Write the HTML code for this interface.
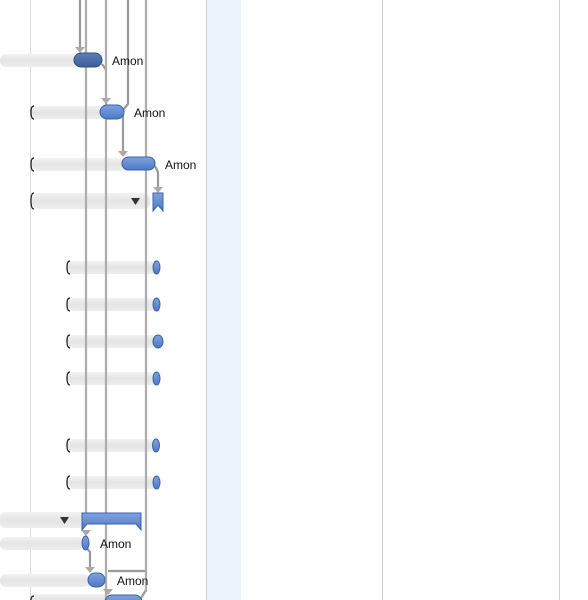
<!DOCTYPE html>
<html><head><meta charset="utf-8"><style>
html,body{margin:0;padding:0;background:#fff;width:588px;height:600px;overflow:hidden}
svg{display:block}
text{font-family:"Liberation Sans",sans-serif;font-size:12px;fill:#111}
</style></head><body>
<svg width="588" height="600" viewBox="0 0 588 600" xmlns="http://www.w3.org/2000/svg">
<defs>
<linearGradient id="gb" x1="0" y1="0" x2="0" y2="1"><stop offset="0" stop-color="#f2f2f2"/><stop offset="0.5" stop-color="#e4e4e4"/><stop offset="1" stop-color="#eeeeee"/></linearGradient>
<linearGradient id="bl" x1="0" y1="0" x2="0" y2="1"><stop offset="0" stop-color="#7fa3de"/><stop offset="1" stop-color="#4d78c4"/></linearGradient>
<linearGradient id="dk" x1="0" y1="0" x2="0" y2="1"><stop offset="0" stop-color="#5d7fb8"/><stop offset="1" stop-color="#3b5e98"/></linearGradient>
</defs>
<rect x="207" y="0" width="34" height="600" fill="#ecf3fd"/>
<line x1="30.5" y1="0" x2="30.5" y2="600" stroke="#dcdcdc"/>
<line x1="206.5" y1="0" x2="206.5" y2="600" stroke="#cfcfcf"/>
<line x1="382.5" y1="0" x2="382.5" y2="600" stroke="#cfcfcf"/>
<line x1="559.5" y1="0" x2="559.5" y2="600" stroke="#cfcfcf"/>

<g fill="url(#gb)">
<rect x="0" y="54" width="80" height="13" rx="6"/>
<rect x="32" y="106" width="72" height="13" rx="6"/>
<rect x="32" y="158" width="95" height="13" rx="6"/>
<rect x="32" y="193" width="118" height="16" rx="6"/>
<rect x="68" y="261" width="88" height="13" rx="6"/>
<rect x="68" y="298" width="88" height="13" rx="6"/>
<rect x="68" y="335" width="88" height="13" rx="6"/>
<rect x="68" y="372" width="88" height="13" rx="6"/>
<rect x="68" y="439" width="88" height="13" rx="6"/>
<rect x="68" y="476" width="88" height="13" rx="6"/>
<rect x="0" y="512" width="85" height="16" rx="5"/>
<rect x="0" y="537" width="84" height="13" rx="6"/>
<rect x="0" y="574" width="90" height="13" rx="6"/>
<rect x="32" y="594" width="80" height="10" rx="5"/>
</g>
<g fill="none" stroke="#222" stroke-width="1.3">
<path d="M34 106 Q31 106 31 112 Q31 119 34 119"/>
<path d="M34 158 Q31 158 31 164 Q31 171 34 171"/>
<path d="M34 193 Q31 193 31 201 Q31 209 34 209"/>
<path d="M70 261 Q67 261 67 267 Q67 274 70 274"/>
<path d="M70 298 Q67 298 67 304 Q67 311 70 311"/>
<path d="M70 335 Q67 335 67 341 Q67 348 70 348"/>
<path d="M70 372 Q67 372 67 378 Q67 385 70 385"/>
<path d="M70 439 Q67 439 67 445 Q67 452 70 452"/>
<path d="M70 476 Q67 476 67 482 Q67 489 70 489"/>
<path d="M34 596 Q31 596 31 600"/>
</g>
<path d="M131 198 L140 198 L135.5 205 Z" fill="#333"/>
<path d="M60 517 L69 517 L64.5 524 Z" fill="#333"/>

<g fill="none" stroke="#999" stroke-width="2.2">
<line x1="86" y1="0" x2="86" y2="522"/>
<line x1="106" y1="0" x2="106" y2="600"/>
<line x1="146" y1="0" x2="146" y2="592"/>
<path d="M80 0 V48"/>
<path d="M128 0 V104 L123 110 V152"/>
<path d="M102 64 L106 70"/>
<path d="M155 166 L158 172 V188"/>
<path d="M85 546 L90 552 V568"/>
<path d="M108 571 H146"/>
<path d="M146 590 L141 598"/>
<path d="M106 586 L106 592"/>
</g>
<g fill="none" stroke="#dcdcdc" stroke-width="0.6">
<line x1="86" y1="0" x2="86" y2="522"/>
<line x1="106" y1="0" x2="106" y2="600"/>
<line x1="146" y1="0" x2="146" y2="592"/>
</g>
<g fill="#aaa">
<path d="M75 47 L85 47 L80 53 Z"/>
<path d="M101 98 L111 98 L106 104 Z"/>
<path d="M118 151 L128 151 L123 157 Z"/>
<path d="M153 187 L163 187 L158 193 Z"/>
<path d="M81 530 L91 530 L86 536 Z"/>
<path d="M85 567 L95 567 L90 573 Z"/>
<path d="M103 589 L113 589 L108 595 Z"/>
</g>

<rect x="74" y="53" width="28" height="14" rx="7" fill="url(#dk)" stroke="#2f4f85"/>
<rect x="100" y="105" width="24" height="14" rx="7" fill="url(#bl)" stroke="#3a63a8"/>
<rect x="122" y="157" width="33" height="13" rx="6.5" fill="url(#bl)" stroke="#3a63a8"/>
<path d="M153 193 H163 V211 L158 205 L153 211 Z" fill="url(#bl)" stroke="#3a63a8"/>
<ellipse cx="156.5" cy="267.5" rx="3.5" ry="6.5" fill="url(#bl)" stroke="#3a63a8"/>
<ellipse cx="156.5" cy="304.5" rx="3.5" ry="6.5" fill="url(#bl)" stroke="#3a63a8"/>
<ellipse cx="158" cy="341.5" rx="5" ry="6.5" fill="url(#bl)" stroke="#3a63a8"/>
<ellipse cx="156.5" cy="378.5" rx="3.5" ry="6.5" fill="url(#bl)" stroke="#3a63a8"/>
<ellipse cx="156" cy="445.5" rx="3.5" ry="6.5" fill="url(#bl)" stroke="#3a63a8"/>
<ellipse cx="156.5" cy="482.5" rx="3.5" ry="6.5" fill="url(#bl)" stroke="#3a63a8"/>
<path d="M82 513 H141 V530 L136 524 H87 L82 530 Z" fill="url(#bl)" stroke="#3a63a8"/>
<ellipse cx="85.5" cy="543" rx="3.5" ry="7" fill="url(#bl)" stroke="#3a63a8"/>
<rect x="88" y="573" width="17" height="14" rx="7" fill="url(#bl)" stroke="#3a63a8"/>
<rect x="105" y="595" width="37" height="14" rx="7" fill="url(#bl)" stroke="#3a63a8"/>

<text x="112" y="65">Amon</text>
<text x="134" y="117">Amon</text>
<text x="165" y="169">Amon</text>
<text x="100" y="548">Amon</text>
<text x="117" y="585">Amon</text>
</svg>
</body></html>
